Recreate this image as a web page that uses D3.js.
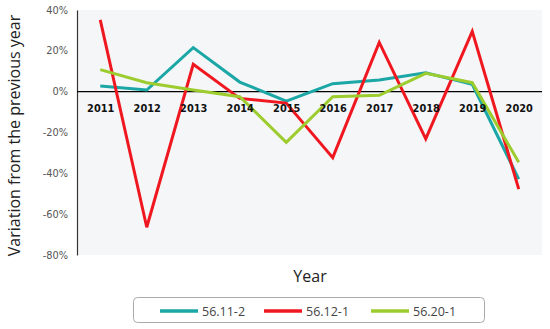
<!DOCTYPE html>
<html><head><meta charset="utf-8">
<script src="https://cdn.jsdelivr.net/npm/d3@7"></script>
<style>body{margin:0;background:#fff}svg{display:block}</style>
</head><body><svg id="c" width="550" height="329"></svg>
<script>
const years = ["2011","2012","2013","2014","2015","2016","2017","2018","2019","2020"];
const s5611 = [2.8, 0.8, 21.6, 4.7, -4.6, 3.9, 5.7, 9.3, 3.6, -42.8];
const s5612 = [35.2, -66.4, 13.4, -3.3, -5.6, -32.3, 24.1, -23.1, 29.5, -47.7];
const s5620 = [10.8, 4.4, 0.8, -2.5, -24.8, -2.5, -1.8, 9.0, 4.4, -34.6];
const seriesNames = ["56.11-2", "56.12-1", "56.20-1"];
const yTicks = [40, 20, 0, -20, -40, -60, -80];
const colors = ["#1aa7a6", "#f01820", "#9ccc2e"];

(function(){
const svg = d3.select("#c");
const pL = 77, pR = 542, pT = 10, pB = 255;
const x = d3.scalePoint().domain(years).range([pL, pR]).padding(0.5);
const y = d3.scaleLinear().domain([-80, 40]).range([pB, pT]);

svg.append("rect").attr("x", pL).attr("y", pT).attr("width", pR-pL).attr("height", pB-pT).attr("fill", "#f5f6f8");

const ya = svg.append("g").attr("transform", `translate(${pL},0)`)
  .call(d3.axisLeft(y).tickValues(yTicks).tickSize(0).tickPadding(9).tickFormat(d => d + "%"));
ya.select(".domain").attr("stroke", "#333").attr("stroke-width", 1.2);
ya.selectAll("text").attr("font-family", "DejaVu Sans, Verdana, sans-serif").attr("font-size", 9.8).attr("fill", "#555");

svg.append("line").attr("x1", pL).attr("x2", pR).attr("y1", y(0)).attr("y2", y(0)).attr("stroke", "#000").attr("stroke-width", 1.2);

const line = d3.line().x((d,i) => x(years[i])).y(d => y(d));
[s5611, s5612, s5620].forEach((s, k) => {
  svg.append("path").datum(s).attr("d", line).attr("fill", "none")
    .attr("stroke", colors[k]).attr("stroke-width", 3).attr("stroke-linejoin", "miter");
});

const xa = svg.append("g").attr("transform", `translate(0,${y(0)})`)
  .call(d3.axisBottom(x).tickSize(0).tickPadding(13));
xa.select(".domain").remove();
xa.selectAll("text").attr("font-family", "DejaVu Sans, Verdana, sans-serif").attr("font-weight", "bold").attr("font-size", 9.8).attr("fill", "#111");

svg.append("text").attr("transform", `translate(20,${(pT+pB)/2+3}) rotate(-90)`)
  .attr("text-anchor", "middle").attr("font-family", "Open Sans, sans-serif").attr("font-size", 16).attr("fill", "#222")
  .text("Variation from the previous year");
svg.append("text").attr("x", 310).attr("y", 282).attr("text-anchor", "middle")
  .attr("font-family", "Open Sans, sans-serif").attr("font-size", 16).attr("fill", "#222").text("Year");

svg.append("rect").attr("x", 133.5).attr("y", 297.5).attr("width", 351).attr("height", 25).attr("rx", 4)
  .attr("fill", "#fff").attr("stroke", "#aaa");
const lx = [160, 264, 371];
seriesNames.forEach((n, k) => {
  svg.append("line").attr("x1", lx[k]).attr("x2", lx[k]+38).attr("y1", 311).attr("y2", 311)
    .attr("stroke", colors[k]).attr("stroke-width", 3.5);
  svg.append("text").attr("x", lx[k]+42).attr("y", 315.5).attr("font-family", "Open Sans, sans-serif")
    .attr("font-size", 12.5).attr("fill", "#444").text(n);
});
})();
</script></body></html>
